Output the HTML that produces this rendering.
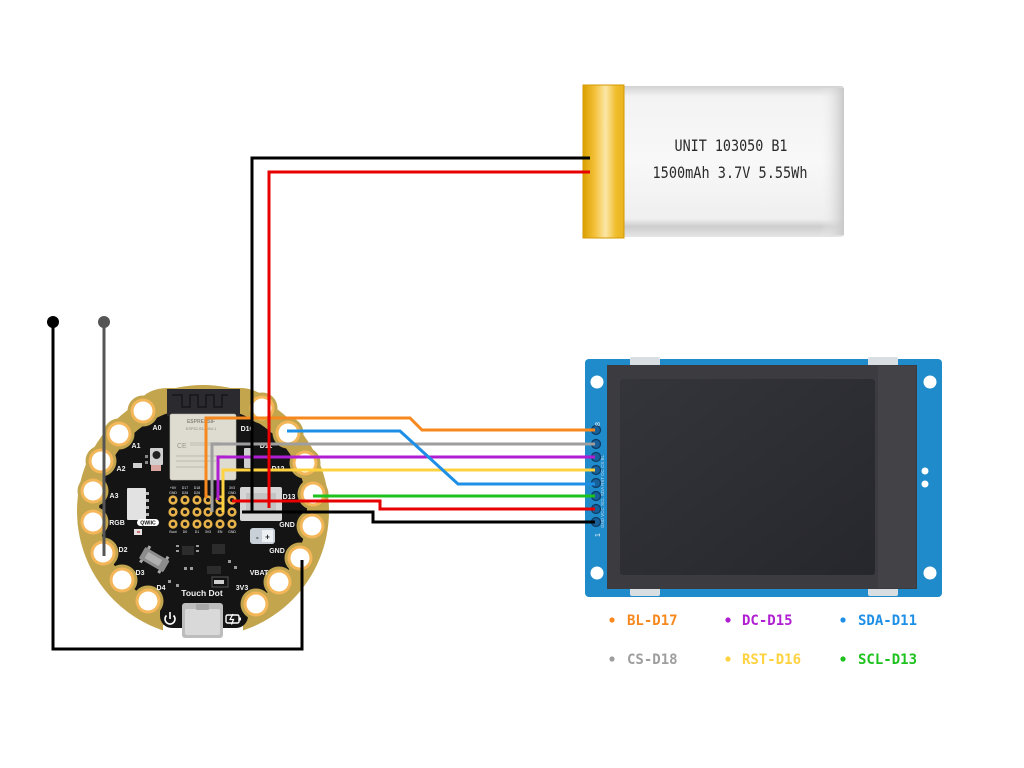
<!DOCTYPE html>
<html><head><meta charset="utf-8"><style>
html,body{margin:0;padding:0;background:#fff;}
svg{display:block;}
</style></head><body>
<svg width="1024" height="768" viewBox="0 0 1024 768" xmlns="http://www.w3.org/2000/svg">
<defs>
 <linearGradient id="kapton" x1="0" x2="1" y1="0" y2="0">
  <stop offset="0" stop-color="#dba000"/>
  <stop offset="0.3" stop-color="#f4c23c"/>
  <stop offset="0.55" stop-color="#fbe6a8"/>
  <stop offset="0.8" stop-color="#f1be2c"/>
  <stop offset="1" stop-color="#e9b320"/>
 </linearGradient>
 <linearGradient id="cell" x1="0" x2="0" y1="0" y2="1">
  <stop offset="0" stop-color="#d2d2d2"/>
  <stop offset="0.07" stop-color="#f3f3f3"/>
  <stop offset="0.5" stop-color="#f8f8f8"/>
  <stop offset="0.88" stop-color="#efefef"/>
  <stop offset="0.93" stop-color="#cdcdcd"/>
  <stop offset="1" stop-color="#e6e6e6"/>
 </linearGradient>
 <linearGradient id="cellR" x1="0" x2="1" y1="0" y2="0">
  <stop offset="0" stop-color="#f4f4f4" stop-opacity="0"/>
  <stop offset="1" stop-color="#c8c8c8"/>
 </linearGradient>
 <linearGradient id="scr" x1="0" x2="1" y1="0" y2="1">
  <stop offset="0" stop-color="#34353b"/>
  <stop offset="1" stop-color="#26272c"/>
 </linearGradient>
</defs>

<!-- ================= BATTERY ================= -->
<rect x="615" y="86" width="229" height="151" rx="3" fill="url(#cell)"/>
<rect x="820" y="88" width="24" height="147" fill="url(#cellR)"/>
<rect x="583" y="85" width="41" height="153" fill="url(#kapton)"/>
<rect x="583" y="85" width="41" height="153" fill="none" stroke="#d49a00" stroke-width="1"/>
<text x="731" y="151" font-family="'DejaVu Sans Mono','Liberation Mono',monospace" font-size="16" fill="#2a2a2a" text-anchor="middle" textLength="113" lengthAdjust="spacingAndGlyphs">UNIT 103050 B1</text>
<text x="730" y="178" font-family="'DejaVu Sans Mono','Liberation Mono',monospace" font-size="16" fill="#2a2a2a" text-anchor="middle" textLength="155" lengthAdjust="spacingAndGlyphs">1500mAh 3.7V 5.55Wh</text>

<!-- ================= DISPLAY ================= -->
<rect x="585" y="359" width="357" height="238" rx="4" fill="#1f8bcb"/>
<rect x="630" y="357" width="30" height="9" rx="2" fill="#d9dee3"/>
<rect x="868" y="357" width="30" height="9" rx="2" fill="#d9dee3"/>
<rect x="630" y="587" width="30" height="9" rx="2" fill="#d9dee3"/>
<rect x="868" y="587" width="30" height="9" rx="2" fill="#d9dee3"/>
<rect x="607" y="365" width="310" height="224" fill="#3c3c40"/>
<rect x="878" y="366" width="38" height="222" fill="#434347"/>
<rect x="620" y="379" width="255" height="196" rx="3" fill="url(#scr)"/>
<circle cx="597" cy="382" r="6.5" fill="#fff"/>
<circle cx="930" cy="382" r="6.5" fill="#fff"/>
<circle cx="597" cy="573" r="6.5" fill="#fff"/>
<circle cx="930" cy="573" r="6.5" fill="#fff"/>
<circle cx="925" cy="471" r="3.5" fill="#fff"/>
<circle cx="925" cy="484" r="3.5" fill="#fff"/>
<g fill="#17609a" stroke="#0d3a62" stroke-width="1.2">
 <circle cx="596" cy="430" r="4.5"/><circle cx="596" cy="444" r="4.5"/>
 <circle cx="596" cy="457" r="4.5"/><circle cx="596" cy="470" r="4.5"/>
 <circle cx="596" cy="483" r="4.5"/><circle cx="596" cy="496" r="4.5"/>
 <circle cx="596" cy="509" r="4.5"/><circle cx="596" cy="522" r="4.5"/>
</g>
<text transform="translate(604,528) rotate(-90)" font-family="'Liberation Sans',sans-serif" font-size="4.5" fill="#bcd9ee">GND VCC SCL SDA RST DC CS BL</text>
<text transform="translate(600,426) rotate(-90)" font-family="'Liberation Sans',sans-serif" font-size="7" fill="#e6f2fa">8</text>
<text transform="translate(600,537) rotate(-90)" font-family="'Liberation Sans',sans-serif" font-size="7" fill="#e6f2fa">1</text>

<!-- ================= BOARD ================= -->
<circle cx="203" cy="511" r="126" fill="#c3a54e"/>
<path d="M138,402 Q148,388 168,388 H240 Q258,388 270,402 Z" fill="#c3a54e"/>
<rect x="163" y="625" width="80" height="15" fill="#fff"/>
<circle cx="203" cy="511" r="104" fill="#141414"/>
<rect x="160" y="560" width="88" height="68" rx="12" fill="#141414"/>
<g fill="#c3a54e">
 <circle cx="143" cy="411" r="15.5"/><circle cx="119" cy="434" r="15.5"/>
 <circle cx="101" cy="461" r="15.5"/><circle cx="93" cy="491" r="15.5"/>
 <circle cx="93" cy="522" r="15.5"/><circle cx="103" cy="553" r="15.5"/>
 <circle cx="122" cy="580" r="15.5"/><circle cx="148" cy="601" r="15.5"/>
 <circle cx="256" cy="604" r="15.5"/><circle cx="279" cy="582" r="15.5"/>
 <circle cx="300" cy="558" r="15.5"/><circle cx="312" cy="526" r="15.5"/>
 <circle cx="313" cy="494" r="15.5"/><circle cx="305" cy="463" r="15.5"/>
 <circle cx="288" cy="433" r="15.5"/><circle cx="262" cy="408" r="15.5"/>
</g>
<g fill="#f3b658">
 <circle cx="143" cy="411" r="12.5"/><circle cx="119" cy="434" r="12.5"/>
 <circle cx="101" cy="461" r="12.5"/><circle cx="93" cy="491" r="12.5"/>
 <circle cx="93" cy="522" r="12.5"/><circle cx="103" cy="553" r="12.5"/>
 <circle cx="122" cy="580" r="12.5"/><circle cx="148" cy="601" r="12.5"/>
 <circle cx="256" cy="604" r="12.5"/><circle cx="279" cy="582" r="12.5"/>
 <circle cx="300" cy="558" r="12.5"/><circle cx="312" cy="526" r="12.5"/>
 <circle cx="313" cy="494" r="12.5"/><circle cx="305" cy="463" r="12.5"/>
 <circle cx="288" cy="433" r="12.5"/><circle cx="262" cy="408" r="12.5"/>
</g>
<g fill="#fff">
 <circle cx="143" cy="411" r="9.5"/><circle cx="119" cy="434" r="9.5"/>
 <circle cx="101" cy="461" r="9.5"/><circle cx="93" cy="491" r="9.5"/>
 <circle cx="93" cy="522" r="9.5"/><circle cx="103" cy="553" r="9.5"/>
 <circle cx="122" cy="580" r="9.5"/><circle cx="148" cy="601" r="9.5"/>
 <circle cx="256" cy="604" r="9.5"/><circle cx="279" cy="582" r="9.5"/>
 <circle cx="300" cy="558" r="9.5"/><circle cx="312" cy="526" r="9.5"/>
 <circle cx="313" cy="494" r="9.5"/><circle cx="305" cy="463" r="9.5"/>
 <circle cx="288" cy="433" r="9.5"/><circle cx="262" cy="408" r="9.5"/>
</g>

<!-- module -->
<rect x="167" y="389" width="73" height="27" fill="#2a2a2f"/>
<path d="M172,395 h10 v12 h8 v-12 h8 v12 h8 v-12 h8 v12 h8 v-12 h6" fill="none" stroke="#1b1b1e" stroke-width="2"/>
<rect x="170" y="414" width="66" height="66" rx="2" fill="#dedbd0" stroke="#bdb9ad" stroke-width="0.6"/>
<text x="201" y="423" font-family="'Liberation Sans',sans-serif" font-size="5" font-weight="bold" fill="#8a877e" text-anchor="middle">ESPRESSIF</text>
<text x="201" y="430" font-family="'Liberation Sans',sans-serif" font-size="3.8" fill="#8a877e" text-anchor="middle">ESP32-S3-MINI-1</text>
<text x="177" y="448" font-family="'Liberation Sans',sans-serif" font-size="7" fill="#9a978e">CE</text>
<rect x="190" y="442" width="30" height="4" fill="#cfccc1"/>
<rect x="176" y="455" width="50" height="2" fill="#cdcabf"/>
<rect x="176" y="460" width="40" height="2" fill="#cdcabf"/>
<rect x="176" y="466" width="30" height="2" fill="#cdcabf"/>

<!-- header -->
<g font-family="'Liberation Sans',sans-serif" font-size="3.5" fill="#e8e8e8" text-anchor="middle">
 <text x="173" y="489">+5V</text><text x="185" y="489">D17</text><text x="197" y="489">D18</text><text x="232" y="489">3V3</text>
 <text x="173" y="494">GND</text><text x="185" y="494">D26</text><text x="197" y="494">D26</text><text x="232" y="494">GND</text>
 <text x="173" y="533">Boot</text><text x="185" y="533">D0</text><text x="197" y="533">D1</text><text x="208" y="533">3V3</text><text x="220" y="533">EN</text><text x="232" y="533">GND</text>
</g>
<g fill="#e8b24a">
 <circle cx="173" cy="500" r="4.6"/><circle cx="185" cy="500" r="4.6"/><circle cx="197" cy="500" r="4.6"/><circle cx="208" cy="500" r="4.6"/><circle cx="220" cy="500" r="4.6"/><circle cx="232" cy="500" r="4.6"/>
 <circle cx="173" cy="512" r="4.6"/><circle cx="185" cy="512" r="4.6"/><circle cx="197" cy="512" r="4.6"/><circle cx="208" cy="512" r="4.6"/><circle cx="220" cy="512" r="4.6"/><circle cx="232" cy="512" r="4.6"/>
 <circle cx="173" cy="524" r="4.6"/><circle cx="185" cy="524" r="4.6"/><circle cx="197" cy="524" r="4.6"/><circle cx="208" cy="524" r="4.6"/><circle cx="220" cy="524" r="4.6"/><circle cx="232" cy="524" r="4.6"/>
</g>
<g fill="#1a1a1a">
 <circle cx="173" cy="500" r="2"/><circle cx="185" cy="500" r="2"/><circle cx="197" cy="500" r="2"/><circle cx="208" cy="500" r="2"/><circle cx="220" cy="500" r="2"/><circle cx="232" cy="500" r="2"/>
 <circle cx="173" cy="512" r="2"/><circle cx="185" cy="512" r="2"/><circle cx="197" cy="512" r="2"/><circle cx="208" cy="512" r="2"/><circle cx="220" cy="512" r="2"/><circle cx="232" cy="512" r="2"/>
 <circle cx="173" cy="524" r="2"/><circle cx="185" cy="524" r="2"/><circle cx="197" cy="524" r="2"/><circle cx="208" cy="524" r="2"/><circle cx="220" cy="524" r="2"/><circle cx="232" cy="524" r="2"/>
</g>

<!-- misc parts -->
<rect x="150" y="448" width="13" height="17" rx="1" fill="#d0d0d0"/>
<circle cx="156.5" cy="455" r="4" fill="#222"/>
<rect x="151" y="465" width="10" height="6" fill="#d9a5a0"/>
<rect x="133" y="463" width="9" height="5" fill="#cfcfcf"/>
<rect x="145" y="455" width="3" height="3" fill="#888"/><rect x="145" y="461" width="3" height="3" fill="#888"/>
<rect x="127" y="488" width="19" height="32" rx="1" fill="#e2e2e2"/>
<rect x="146" y="492" width="3" height="3" fill="#bbb"/><rect x="146" y="499" width="3" height="3" fill="#bbb"/><rect x="146" y="506" width="3" height="3" fill="#bbb"/><rect x="146" y="513" width="3" height="3" fill="#bbb"/>
<rect x="137" y="519" width="22" height="7" rx="3.5" fill="#fff"/>
<text x="148" y="524.7" font-family="'Liberation Sans',sans-serif" font-size="5.2" font-weight="bold" fill="#111" text-anchor="middle">QWIIC</text>
<rect x="134" y="529" width="8" height="6" fill="#e6e0e0"/>
<rect x="137" y="531" width="3" height="2" fill="#c77"/>
<g transform="rotate(30,154,560)">
 <rect x="140" y="553" width="28" height="13" rx="1" fill="#8c8c8c"/>
 <rect x="145" y="556" width="16" height="7" fill="#b0b0b0"/>
 <rect x="142" y="550" width="3" height="3" fill="#aaa"/><rect x="163" y="550" width="3" height="3" fill="#aaa"/>
 <rect x="142" y="566" width="3" height="3" fill="#aaa"/><rect x="163" y="566" width="3" height="3" fill="#aaa"/>
</g>
<rect x="182" y="546" width="12" height="9" fill="#2c2c2c"/>
<rect x="212" y="544" width="13" height="10" fill="#2c2c2c"/>
<rect x="207" y="566" width="14" height="8" fill="#2c2c2c"/>
<rect x="214" y="580" width="10" height="4" fill="#cfcfcf"/>
<rect x="212" y="577" width="16" height="10" fill="none" stroke="#555" stroke-width="1"/>
<g fill="#9a9a9a">
 <rect x="176" y="545" width="3" height="2"/><rect x="176" y="550" width="3" height="2"/><rect x="196" y="545" width="3" height="2"/><rect x="196" y="550" width="3" height="2"/>
 <rect x="184" y="567" width="3" height="3"/><rect x="190" y="567" width="3" height="3"/><rect x="228" y="560" width="3" height="3"/><rect x="234" y="566" width="3" height="3"/>
 <rect x="168" y="580" width="3" height="3"/><rect x="176" y="584" width="3" height="3"/>
</g>
<rect x="244" y="448" width="8" height="20" rx="1" fill="#cfcfcf"/>
<rect x="240" y="487" width="42" height="34" rx="2" fill="#d6d6d6"/>
<rect x="246" y="493" width="30" height="20" fill="#c3c3c3"/>
<rect x="250" y="528" width="25" height="16" rx="3" fill="#c9d0d8"/>
<text x="256" y="540" font-family="'Liberation Sans',sans-serif" font-size="8" font-weight="bold" fill="#222">-</text>
<rect x="262" y="530" width="11" height="12" fill="#eef1f4"/>
<text x="267.5" y="539.5" font-family="'Liberation Sans',sans-serif" font-size="8" font-weight="bold" fill="#222" text-anchor="middle">+</text>

<!-- labels -->
<g font-family="'Liberation Sans',sans-serif" font-size="7" font-weight="bold" fill="#f2f2f2" text-anchor="middle">
 <text x="157" y="430">A0</text>
 <text x="136" y="448">A1</text>
 <text x="121" y="471">A2</text>
 <text x="114" y="498">A3</text>
 <text x="117" y="525">RGB</text>
 <text x="123" y="552">D2</text>
 <text x="140" y="575">D3</text>
 <text x="161" y="590">D4</text>
 <text x="242" y="590">3V3</text>
 <text x="259" y="575">VBAT</text>
 <text x="277" y="553">GND</text>
 <text x="287" y="527">GND</text>
 <text x="289" y="499">D13</text>
 <text x="278" y="471">D12</text>
 <text x="266" y="448">D11</text>
 <text x="247" y="431">D10</text>
 <text x="202" y="596" font-size="8.5">Touch Dot</text>
</g>
<!-- power icon -->
<path d="M166.5,615.5 A5,5 0 1 0 173.5,615.5" fill="none" stroke="#fff" stroke-width="1.6"/>
<line x1="170" y1="612" x2="170" y2="619" stroke="#fff" stroke-width="1.6"/>
<!-- charge icon -->
<rect x="226" y="615" width="13" height="8" rx="1.5" fill="none" stroke="#fff" stroke-width="1.4"/>
<rect x="239" y="617.5" width="2" height="3" fill="#fff"/>
<path d="M233,614 L230,619.5 H233.5 L231.5,624.5" fill="none" stroke="#fff" stroke-width="1.2"/>
<!-- USB-C -->
<rect x="182" y="603" width="41" height="35" rx="3" fill="#bdbdbd"/>
<rect x="185" y="609" width="35" height="26" rx="2" fill="#d9d9d9"/>
<rect x="196" y="604" width="13" height="6" rx="1" fill="#a8a8a8"/>

<!-- ================= ANTENNA WIRES ================= -->
<path d="M53,322 V649 H302 V560" fill="none" stroke="#000" stroke-width="3"/>
<circle cx="53" cy="322" r="6" fill="#000"/>
<path d="M104,322 V556" fill="none" stroke="#555" stroke-width="3"/>
<circle cx="104" cy="322" r="6" fill="#555"/>

<!-- ================= SIGNAL WIRES ================= -->
<g fill="none" stroke-width="3" stroke-linejoin="miter">
 <path d="M313,496 H595" stroke="#1ec21e"/>
 <path d="M223,512 V470 H595" stroke="#ffd23f"/>
 <path d="M218,500 V457 H595" stroke="#b01ed2"/>
 <path d="M212,512 V444 H595" stroke="#9e9e9e"/>
 <path d="M287,431 H400 L458,484 H595" stroke="#1e8fe6"/>
 <path d="M206,498 V418 H410 L422,430 H595" stroke="#f7881e"/>
 <path d="M232,501 H380 V509 H595" stroke="#e60000"/>
 <path d="M242,512 H373 V522 H595" stroke="#000"/>
 <path d="M590,158 H252 V512" stroke="#000"/>
 <path d="M590,172 H269 V508" stroke="#e60000"/>
</g>

<!-- ================= LEGEND ================= -->
<g font-family="'DejaVu Sans Mono','Liberation Mono',monospace" font-size="14" font-weight="bold">
 <circle cx="612" cy="620" r="2.6" fill="#f7881e"/>
 <text x="627" y="625" fill="#f7881e">BL-D17</text>
 <circle cx="728" cy="620" r="2.6" fill="#b01ed2"/>
 <text x="742" y="625" fill="#b01ed2">DC-D15</text>
 <circle cx="843" cy="620" r="2.6" fill="#1e8fe6"/>
 <text x="858" y="625" fill="#1e8fe6">SDA-D11</text>
 <circle cx="612" cy="659" r="2.6" fill="#9e9e9e"/>
 <text x="627" y="664" fill="#9e9e9e">CS-D18</text>
 <circle cx="728" cy="659" r="2.6" fill="#ffd23f"/>
 <text x="742" y="664" fill="#ffd23f">RST-D16</text>
 <circle cx="843" cy="659" r="2.6" fill="#1ec21e"/>
 <text x="858" y="664" fill="#1ec21e">SCL-D13</text>
</g>
</svg>
</body></html>
